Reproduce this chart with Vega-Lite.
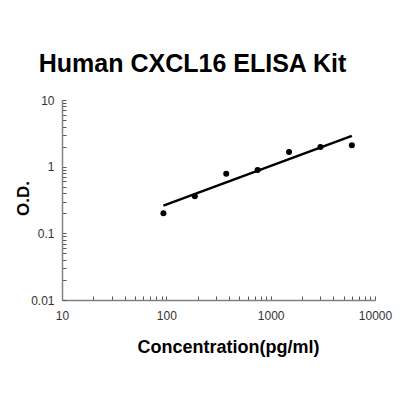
{
  "$schema": "https://vega.github.io/schema/vega-lite/v6.json",
  "width": 313,
  "height": 200,
  "autosize": "none",
  "padding": {"left": 62, "top": 100, "right": 25, "bottom": 100},
  "background": "white",
  "title": {
    "text": "Human CXCL16 ELISA Kit",
    "font": "Liberation Sans",
    "fontSize": 25,
    "fontWeight": "bold",
    "color": "black",
    "anchor": "middle",
    "offset": 17,
    "dx": -26
  },
  "datasets": {
    "points": [
      {"conc": 93.75, "od": 0.2},
      {"conc": 187.5, "od": 0.36},
      {"conc": 375, "od": 0.78},
      {"conc": 750, "od": 0.89},
      {"conc": 1500, "od": 1.66},
      {"conc": 3000, "od": 1.98},
      {"conc": 6000, "od": 2.1}
    ],
    "fit": [
      {"conc": 93.75, "od": 0.26},
      {"conc": 6000, "od": 2.9}
    ]
  },
  "layer": [
    {
      "data": {"name": "fit"},
      "mark": {"type": "line", "color": "black", "strokeWidth": 2.5},
      "encoding": {
        "x": {"field": "conc", "type": "quantitative", "scale": {"type": "log", "domain": [10, 10000]}},
        "y": {"field": "od", "type": "quantitative", "scale": {"type": "log", "domain": [0.01, 10]}}
      }
    },
    {
      "data": {"name": "points"},
      "mark": {"type": "circle", "color": "black", "opacity": 1, "size": 36},
      "encoding": {
        "x": {
          "field": "conc",
          "type": "quantitative",
          "scale": {"type": "log", "domain": [10, 10000]},
          "axis": {
            "title": "Concentration(pg/ml)",
            "titleFont": "Liberation Sans",
            "titleFontSize": 18,
            "titleFontWeight": "bold",
            "titleColor": "black",
            "titleX": 166,
            "titleY": 52,
            "titleBaseline": "alphabetic",
            "titleAnchor": "middle",
            "values": [10, 20, 30, 40, 50, 60, 70, 80, 90, 100, 200, 300, 400, 500, 600, 700, 800, 900, 1000, 2000, 3000, 4000, 5000, 6000, 7000, 8000, 9000, 10000],
            "labelExpr": "datum.value == 10 ? '10' : datum.value == 100 ? '100' : datum.value == 1000 ? '1000' : datum.value == 10000 ? '10000' : ''",
            "labelFont": "Liberation Sans",
            "labelFontSize": 12,
            "labelColor": "#333333",
            "labelPadding": 14,
            "labelFlush": false,
            "labelOverlap": false,
            "tickSize": -4,
            "tickColor": "#555555",
            "domainColor": "#808080",
            "domainWidth": 1.5,
            "grid": false
          }
        },
        "y": {
          "field": "od",
          "type": "quantitative",
          "scale": {"type": "log", "domain": [0.01, 10]},
          "axis": {
            "title": "O.D.",
            "titleFont": "Liberation Sans",
            "titleFontSize": 17,
            "titleFontWeight": "bold",
            "titleColor": "black",
            "titleX": -39,
            "titleY": 98,
            "titleAngle": -90,
            "titleBaseline": "middle",
            "titleAnchor": "middle",
            "values": [0.01, 0.02, 0.03, 0.04, 0.05, 0.06, 0.07, 0.08, 0.09, 0.1, 0.2, 0.3, 0.4, 0.5, 0.6, 0.7, 0.8, 0.9, 1, 2, 3, 4, 5, 6, 7, 8, 9, 10],
            "labelExpr": "datum.value == 0.01 ? '0.01' : datum.value == 0.1 ? '0.1' : datum.value == 1 ? '1' : datum.value == 10 ? '10' : ''",
            "labelFont": "Liberation Sans",
            "labelFontSize": 12,
            "labelColor": "#333333",
            "labelPadding": 12,
            "labelFlush": false,
            "labelOverlap": false,
            "tickSize": -4,
            "tickColor": "#555555",
            "domainColor": "#808080",
            "domainWidth": 1.5,
            "grid": false
          }
        }
      }
    }
  ],
  "config": {"view": {"stroke": null}}
}
